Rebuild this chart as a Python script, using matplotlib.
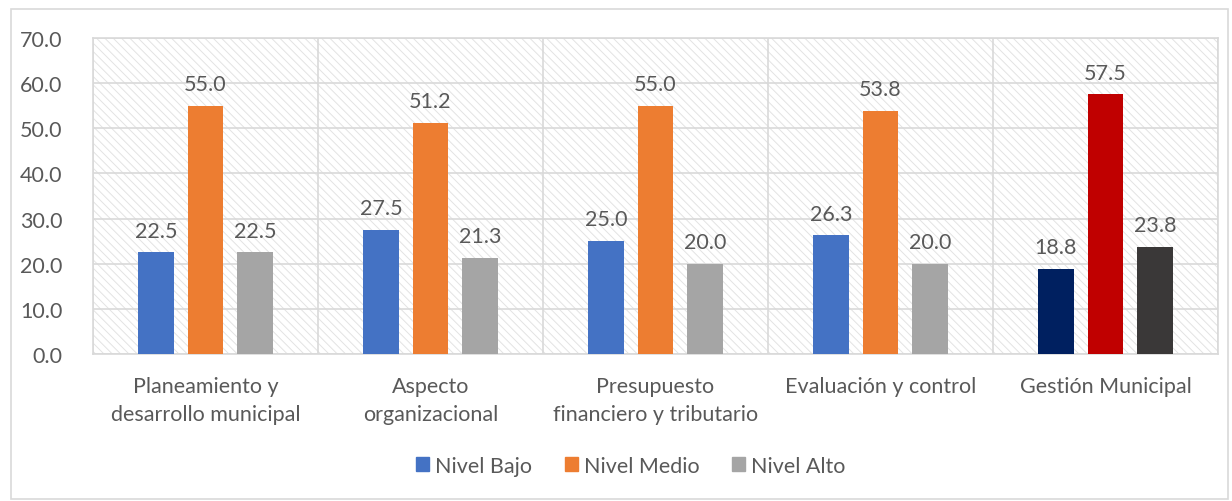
import matplotlib.pyplot as plt
import numpy as np
from matplotlib.patches import Rectangle

categorias = ['Planeamiento y\ndesarrollo municipal', 'Aspecto\norganizacional',
              'Presupuesto\nfinanciero y tributario', 'Evaluación y control', 'Gestión Municipal']
series = ['Nivel Bajo', 'Nivel Medio', 'Nivel Alto']
bajo = [22.5, 27.5, 25.0, 26.3, 18.8]
medio = [55.0, 51.2, 55.0, 53.8, 57.5]
alto = [22.5, 21.3, 20.0, 20.0, 23.8]

colores = ['#4472C4', '#ED7D31', '#A5A5A5']
colores_total = ['#002060', '#C00000', '#3A3838']

plt.rcParams['font.family'] = ['Lato', 'DejaVu Sans']
plt.rcParams['hatch.linewidth'] = 0.7
texto = '#595959'
fs = 15.5

fig = plt.figure(figsize=(12.32, 5.02), dpi=100)
ax = fig.add_axes([0.0755, 0.2928, 0.9131, 0.6295])

# borde exterior
fig.patches.append(Rectangle((0.009, 0.004), 0.988, 0.976, transform=fig.transFigure,
                             fill=False, edgecolor='#D9D9D9', linewidth=1.2))

# fondo rayado
ax.set_facecolor('white')
fondo = Rectangle((0, 0), 1, 1, transform=ax.transAxes, facecolor='white',
                  edgecolor='#E3E3E3', hatch='\\\\\\\\', linewidth=0, zorder=0)
ax.add_patch(fondo)

x = np.arange(len(categorias))
ancho = 0.156
sep = 0.22
for i, (vals, nombre) in enumerate(zip([bajo, medio, alto], series)):
    cols = [colores[i]] * (len(categorias) - 1) + [colores_total[i]]
    ax.bar(x + (i - 1) * sep, vals, ancho, color=cols, label=nombre, zorder=3)
    for xi, v in zip(x + (i - 1) * sep, vals):
        ax.text(xi, v + 2.6, '%.1f' % v, ha='center', va='bottom', fontsize=fs, color=texto, zorder=4)

ax.set_xlim(-0.5, len(categorias) - 0.5)
ax.set_ylim(0, 70)
ax.set_yticks(np.arange(0, 71, 10))
ax.set_yticklabels(['%.1f' % t for t in np.arange(0, 71, 10)])
ax.set_xticks(x)
ax.set_xticklabels(categorias, linespacing=1.5)
ax.set_xticks(np.arange(-0.5, len(categorias), 1), minor=True)
ax.grid(axis='y', color='#D9D9D9', linewidth=1.2, zorder=1)
ax.grid(axis='x', which='minor', color='#D9D9D9', linewidth=1.2, zorder=1)
ax.tick_params(axis='both', which='both', length=0, labelsize=fs, labelcolor=texto)
ax.tick_params(axis='y', pad=22)
ax.tick_params(axis='x', pad=16)
for s in ax.spines.values():
    s.set_color('#D9D9D9')
    s.set_linewidth(1.2)

h = [Rectangle((0, 0), 1, 1, color=c) for c in colores]
fig.legend(h, series, loc='center', bbox_to_anchor=(0.512, 0.07), ncol=3, frameon=False,
           fontsize=fs, labelcolor=texto, handlelength=0.6, handleheight=0.6,
           handletextpad=0.3, columnspacing=1.5)

fig.savefig('out.png', dpi=100)
